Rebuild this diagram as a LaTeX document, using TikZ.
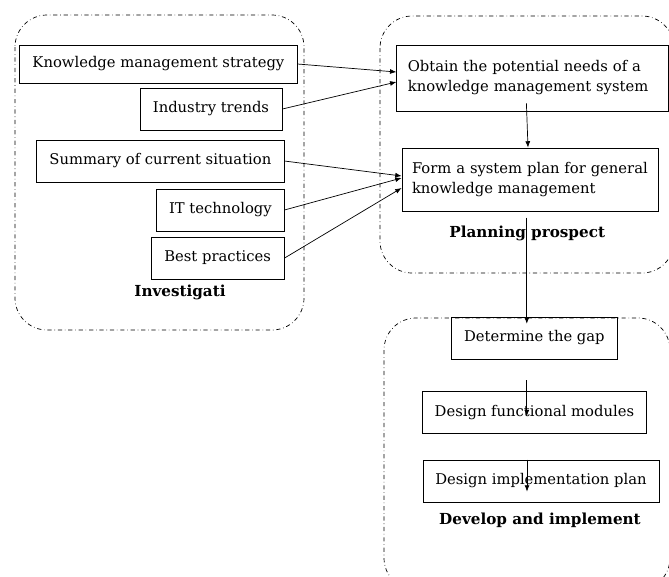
\documentclass[tikz,border=0pt]{standalone}
\usepackage{fontspec}
\setmainfont{DejaVu Serif}
\usetikzlibrary{arrows.meta,positioning}

\begin{document}
\begin{tikzpicture}[
    box/.style={draw, line width=0.6pt, minimum height=1.05cm, inner sep=0pt, font=\fontsize{10.5}{14.2}\selectfont},
    group/.style={draw, dash dot, line width=0.5pt, rounded corners=0.8cm},
    title/.style={font=\fontsize{10.8}{14.2}\selectfont\bfseries},
    arr/.style={-{Latex[length=4.5pt,width=3.5pt]}, line width=0.5pt},
]
    \clip (0,0) rectangle (16.725,-14.4);

    % Dash-dot groups
    \draw[group] (0.375,-0.375) rectangle (7.6,-8.25);
    \draw[group] (9.5,-0.4) rectangle (16.85,-6.825);
    \draw[group] (9.6,-7.95) rectangle (16.75,-14.75);

    % Input boxes on the left
    \node[box, minimum width=6.93cm, minimum height=0.95cm] (strategy) at (3.96,-1.6) {Knowledge management strategy};
    \node[box, minimum width=3.55cm] (trends) at (5.275,-2.725) {Industry trends};
    \node[box, minimum width=6.18cm] (summary) at (4.01,-4.025) {Summary of current situation};
    \node[box, minimum width=3.18cm] (ittech) at (5.51,-5.25) {IT technology};
    \node[box, minimum width=3.33cm] (practices) at (5.44,-6.45) {Best practices};

    % Planning boxes
    \node[box, minimum width=6.78cm, minimum height=1.65cm, text width=6.23cm, align=left] (needs) at (13.31,-1.95) {
        Obtain the potential needs of a\\
        knowledge management system};
    \node[box, minimum width=6.4cm, minimum height=1.58cm, text width=5.9cm, align=left] (plan) at (13.25,-4.49) {
        Form a system plan for general\\
        knowledge management};

    % Develop boxes
    \node[box, minimum width=4.13cm] (gap) at (13.36,-8.45) {Determine the gap};
    \node[box, minimum width=5.58cm, minimum height=1.03cm] (modules) at (13.36,-10.31) {Design functional modules};
    \node[box, minimum width=5.9cm] (implplan) at (13.525,-12.025) {Design implementation plan};

    % Group titles
    \node[title] (investigate) at (4.5,-7.3) {Investigati};
    \node[title] (planning) at (13.18,-5.83) {Planning prospect};
    \node[title] (develop) at (13.5,-13.0) {Develop and implement};

    % Inputs into the planning boxes
    \draw[arr] (strategy.east) -- ([yshift=0.15cm]needs.west);
    \draw[arr] (trends.east) -- ([yshift=-0.1cm]needs.west);
    \draw[arr] (summary.east) -- ([yshift=0.09cm]plan.west);
    \draw[arr] (ittech.east) -- ([yshift=0.04cm]plan.west);
    \draw[arr] (practices.east) -- ([yshift=-0.21cm]plan.west);

    % Vertical flow
    \draw[arr] ([xshift=-0.15cm,yshift=0.2cm]needs.south) -- ([xshift=-0.05cm]plan.north);
    \draw[arr] ([xshift=-0.08cm,yshift=-0.15cm]plan.south) -- ([xshift=-0.19cm,yshift=-0.18cm]gap.north);
    \draw[arr] ([xshift=-0.19cm,yshift=-0.52cm]gap.south) -- ([xshift=-0.19cm,yshift=-0.62cm]modules.north);
    \draw[arr] ([xshift=-0.35cm]implplan.north) -- ([xshift=-0.35cm,yshift=-0.8cm]implplan.north);
\end{tikzpicture}
\end{document}
